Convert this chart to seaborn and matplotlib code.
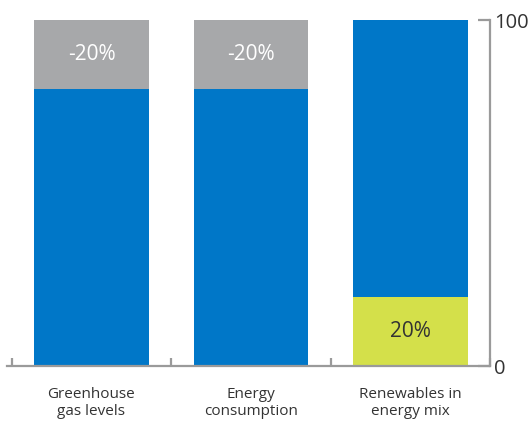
import matplotlib
matplotlib.use("Agg")
import matplotlib.pyplot as plt
import seaborn as sns
import pandas as pd
from matplotlib.ticker import FixedLocator

categories = ["Greenhouse\ngas levels", "Energy\nconsumption", "Renewables in\nenergy mix"]
bottom_values = [80, 80, 20]
top_values = [20, 20, 80]
bottom_labels = ["", "", "20%"]
top_labels = ["-20%", "-20%", ""]
y_ticks = [0, 100]

BLUE = "#0077C8"
GREY = "#A7A8AA"
GREEN = "#D4E04A"
AXIS = "#9A9A9A"
TEXT = "#333333"

sns.set_theme(style="white")
plt.rcParams["font.family"] = ["Open Sans", "DejaVu Sans"]

df = pd.DataFrame({
    "category": categories,
    "bottom": bottom_values,
    "top": top_values,
})
df["total"] = df["bottom"] + df["top"]

fig = plt.figure(figsize=(5.31, 4.25), dpi=100)
ax = fig.add_axes([7 / 531, 59 / 425, (490 - 7) / 531, (366 - 20) / 425])

top_colors = [GREY, GREY, BLUE]
bottom_colors = [BLUE, BLUE, GREEN]

sns.barplot(data=df, x="category", y="total", hue="category",
            palette=top_colors, width=0.72, saturation=1, legend=False,
            linewidth=0, ax=ax)
sns.barplot(data=df, x="category", y="bottom", hue="category",
            palette=bottom_colors, width=0.72, saturation=1, legend=False,
            linewidth=0, ax=ax)

for i, (b, t, bl, tl) in enumerate(zip(bottom_values, top_values, bottom_labels, top_labels)):
    if tl:
        ax.text(i, b + t / 2, tl, ha="center", va="center", color="white", fontsize=15)
    if bl:
        ax.text(i, b / 2, bl, ha="center", va="center", color=TEXT, fontsize=15)

ax.set_xlim(-0.53, 2.5)
ax.set_ylim(0, 100)
ax.set_xlabel("")
ax.set_ylabel("")

for s in ["top", "left"]:
    ax.spines[s].set_visible(False)
for s in ["right", "bottom"]:
    ax.spines[s].set_color(AXIS)
    ax.spines[s].set_linewidth(1.6)

ax.yaxis.tick_right()
ax.set_yticks(y_ticks)
ax.set_yticklabels([str(v) for v in y_ticks])
ax.tick_params(axis="y", direction="in", length=9, width=1.6, color=AXIS,
               labelsize=14.5, labelcolor=TEXT, pad=3, left=False, right=True)

ax.set_xticks(range(len(categories)))
ax.set_xticklabels(categories, fontsize=11, color=TEXT, linespacing=1.2)
ax.tick_params(axis="x", which="major", length=0, pad=15)
ax.xaxis.set_minor_locator(FixedLocator([-0.5, 0.5, 1.5, 2.5]))
ax.tick_params(axis="x", which="minor", direction="in", length=6, width=1.6,
               color=AXIS, bottom=True)

fig.savefig("out.png", dpi=100)
